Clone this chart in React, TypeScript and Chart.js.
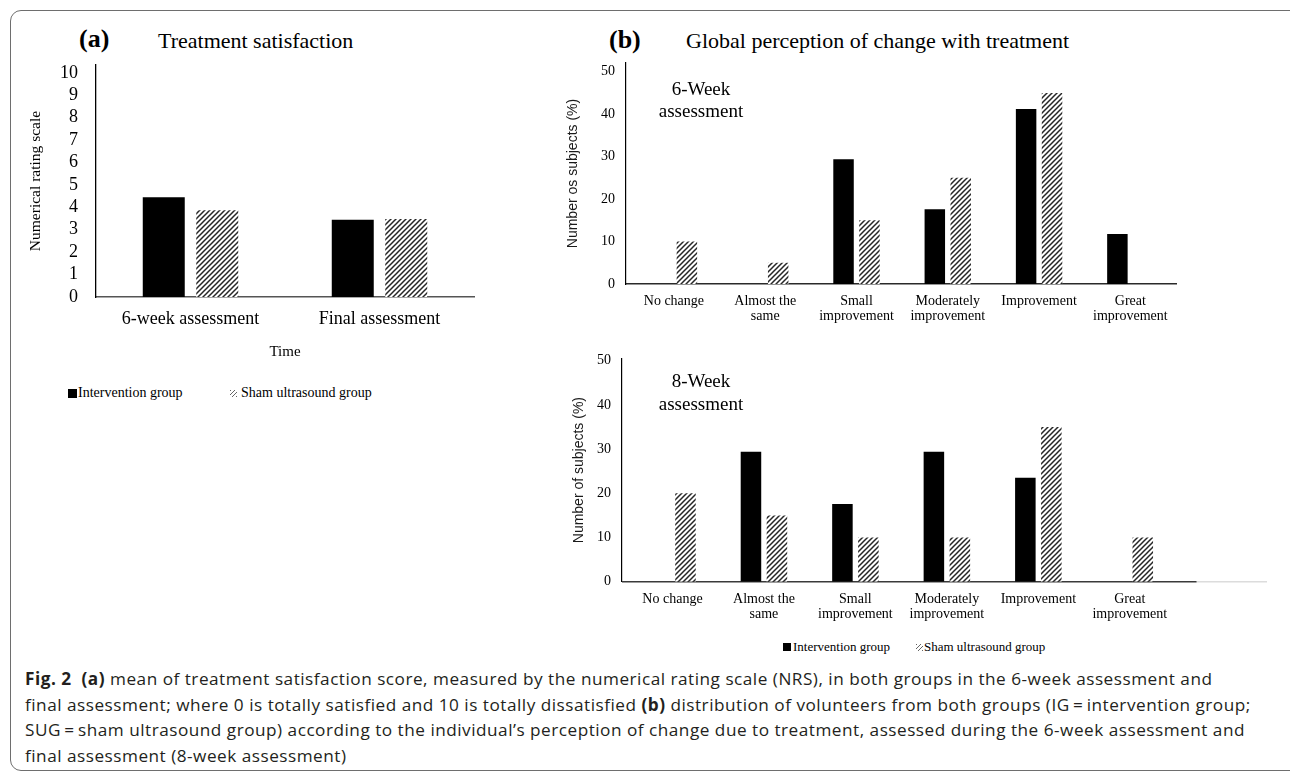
import React, { useEffect, useRef } from "react";
import { Chart, registerables } from "chart.js";

Chart.register(...registerables);

const SERIF = '"Liberation Serif", "Times New Roman", Times, serif';
const SANS = '"Liberation Sans", Arial, Helvetica, sans-serif';
const CAPTION_FONT = '"Open Sans", "Noto Sans", Arial, sans-serif';

// ---------- (a) Treatment satisfaction ----------
const satisfactionCategories = ["6-week assessment", "Final assessment"];
const satisfactionIntervention = [4.45, 3.45];
const satisfactionSham = [3.87, 3.48];
const nrsTicks = [0, 1, 2, 3, 4, 5, 6, 7, 8, 9, 10];

// ---------- (b) Global perception of change ----------
const perceptionCategories = [
  ["No change"],
  ["Almost the", "same"],
  ["Small", "improvement"],
  ["Moderately", "improvement"],
  ["Improvement"],
  ["Great", "improvement"],
];
const week6Intervention = [0, 0, 29.4, 17.6, 41.2, 11.8];
const week6Sham = [10, 5, 15, 25, 45, 0];
const week8Intervention = [0, 29.4, 17.6, 29.4, 23.5, 0];
const week8Sham = [20, 15, 10, 10, 35, 10];
const percentTicks = [0, 10, 20, 30, 40, 50];

const seriesNames = ["Intervention group", "Sham ultrasound group"];

function makeHatch(): CanvasPattern | string {
  const s = 5;
  const c = document.createElement("canvas");
  c.width = s;
  c.height = s;
  const g = c.getContext("2d");
  if (!g) return "#888";
  g.fillStyle = "#ffffff";
  g.fillRect(0, 0, s, s);
  g.strokeStyle = "#262626";
  g.lineWidth = 1.5;
  g.beginPath();
  g.moveTo(0, s);
  g.lineTo(s, 0);
  g.moveTo(-s / 2, s / 2);
  g.lineTo(s / 2, -s / 2);
  g.moveTo(s / 2, s * 1.5);
  g.lineTo(s * 1.5, s / 2);
  g.stroke();
  return g.createPattern(c, "repeat") || "#888";
}

const axisExtension = {
  id: "axisExtension",
  beforeDatasetsDraw(chart: any, _args: any, opts: any) {
    if (!opts || opts.darkEnd === undefined) return;
    const xs = chart.scales.x;
    const { left, right, bottom } = chart.chartArea;
    const ctx = chart.ctx;
    const mid = xs.getPixelForValue(opts.darkEnd);
    ctx.save();
    ctx.lineWidth = 1.5;
    ctx.strokeStyle = "#dcdcdc";
    ctx.beginPath();
    ctx.moveTo(mid, bottom);
    ctx.lineTo(right, bottom);
    ctx.stroke();
    ctx.strokeStyle = "#3a3a3a";
    ctx.beginPath();
    ctx.moveTo(left, bottom);
    ctx.lineTo(mid, bottom);
    ctx.stroke();
    ctx.restore();
  },
};

const fitY = (w: number) => (s: any) => {
  s.width = w;
  s.paddingTop = 0;
  s.paddingBottom = 0;
};
const fitX = (h: number) => (s: any) => {
  s.height = h;
  s.paddingLeft = 0;
  s.paddingRight = 0;
};

function satisfactionConfig(): any {
  const hatch = makeHatch();
  return {
    type: "bar",
    data: {
      labels: satisfactionCategories,
      datasets: [
        {
          label: seriesNames[0],
          data: satisfactionIntervention,
          backgroundColor: "#000000",
          categoryPercentage: 0.566,
          barPercentage: 0.785,
        },
        {
          label: seriesNames[1],
          data: satisfactionSham,
          backgroundColor: hatch,
          categoryPercentage: 0.566,
          barPercentage: 0.785,
        },
      ],
    },
    options: {
      responsive: false,
      animation: false,
      devicePixelRatio: 1,
      layout: { padding: { left: 0, top: 15, right: 26, bottom: 0 } },
      plugins: { legend: { display: false }, tooltip: { enabled: false } },
      scales: {
        x: {
          grid: { display: false, drawTicks: false },
          border: { display: true, color: "#555555", width: 1.6 },
          ticks: {
            color: "#000",
            font: { family: SERIF, size: 18, lineHeight: 1.2 },
            padding: 11,
            maxRotation: 0,
            autoSkip: false,
          },
          title: {
            display: true,
            text: "Time",
            color: "#000",
            font: { family: SERIF, size: 15, lineHeight: 1.2 },
            padding: { top: 0, bottom: 19 },
          },
          afterFit: fitX(83),
        },
        y: {
          min: 0,
          max: 10.35,
          bounds: "data",
          afterBuildTicks: (s: any) => {
            s.ticks = nrsTicks.map((v) => ({ value: v }));
          },
          grid: { display: false, drawTicks: false },
          border: { display: true, color: "#000", width: 1.3 },
          ticks: {
            color: "#000",
            font: { family: SERIF, size: 18 },
            padding: 18,
            autoSkip: false,
          },
          title: {
            display: true,
            text: "Numerical rating scale",
            color: "#000",
            font: { family: SERIF, size: 15.5, lineHeight: 1.2 },
            padding: { top: 27, bottom: 0 },
          },
          afterFit: fitY(96),
        },
      },
    },
  };
}

function perceptionConfig(
  intervention: number[],
  sham: number[],
  p: {
    xMin: number;
    xMax: number;
    yMax: number;
    yWidth: number;
    xHeight: number;
    padTop: number;
    padRight: number;
    yTitle: string;
    yTitlePad: number;
    darkEnd?: number;
  }
): any {
  const hatch = makeHatch();
  const toPoints = (arr: number[]) => arr.map((v, i) => ({ x: i, y: v }));
  return {
    type: "bar",
    data: {
      datasets: [
        {
          label: seriesNames[0],
          data: toPoints(intervention),
          backgroundColor: "#000000",
          categoryPercentage: 0.568,
          barPercentage: 0.79,
        },
        {
          label: seriesNames[1],
          data: toPoints(sham),
          backgroundColor: hatch,
          categoryPercentage: 0.568,
          barPercentage: 0.79,
        },
      ],
    },
    plugins: [axisExtension],
    options: {
      responsive: false,
      animation: false,
      devicePixelRatio: 1,
      layout: { padding: { left: 0, top: p.padTop, right: p.padRight, bottom: 0 } },
      plugins: {
        legend: { display: false },
        tooltip: { enabled: false },
        axisExtension: { darkEnd: p.darkEnd },
      },
      scales: {
        x: {
          type: "linear",
          min: p.xMin,
          max: p.xMax,
          bounds: "data",
          offset: false,
          afterBuildTicks: (s: any) => {
            s.ticks = perceptionCategories.map((_, i) => ({ value: i }));
          },
          grid: { display: false, drawTicks: false, offset: false },
          border: {
            display: p.darkEnd === undefined,
            color: "#2a2a2a",
            width: 1.6,
          },
          ticks: {
            color: "#000",
            font: { family: SERIF, size: 14, lineHeight: "15px" },
            padding: 10,
            maxRotation: 0,
            minRotation: 0,
            autoSkip: false,
            callback: (v: any) => perceptionCategories[Math.round(Number(v))] || "",
          },
          afterFit: fitX(p.xHeight),
        },
        y: {
          min: 0,
          max: p.yMax,
          bounds: "data",
          afterBuildTicks: (s: any) => {
            s.ticks = percentTicks.map((v) => ({ value: v }));
          },
          grid: { display: false, drawTicks: false },
          border: { display: true, color: "#000", width: 1.2 },
          ticks: {
            color: "#000",
            font: { family: SERIF, size: 14 },
            padding: 11,
            autoSkip: false,
          },
          title: {
            display: true,
            text: p.yTitle,
            color: "#1a1a1a",
            font: { family: SANS, size: 14, lineHeight: 1.2 },
            padding: { top: p.yTitlePad, bottom: 0 },
          },
          afterFit: fitY(p.yWidth),
        },
      },
    },
  };
}

function ChartCanvas(props: {
  left: number;
  top: number;
  width: number;
  height: number;
  make: () => any;
}) {
  const ref = useRef<HTMLCanvasElement | null>(null);
  useEffect(() => {
    if (!ref.current) return;
    const chart = new Chart(ref.current, props.make());
    return () => chart.destroy();
  }, []);
  return (
    <canvas
      ref={ref}
      width={props.width}
      height={props.height}
      style={{
        position: "absolute",
        left: props.left,
        top: props.top,
        width: props.width,
        height: props.height,
      }}
    />
  );
}

// text placed by its baseline (line-height = 1)
function Txt(props: {
  x: number;
  baseline: number;
  size: number;
  family?: string;
  bold?: boolean;
  center?: boolean;
  children: React.ReactNode;
  color?: string;
  spacing?: number;
}) {
  const family = props.family || SERIF;
  const asc = family === SANS ? 0.8465 : family === CAPTION_FONT ? 0.888 : 0.8375;
  const top = props.baseline - asc * props.size;
  const style: React.CSSProperties = {
    position: "absolute",
    top,
    left: props.center ? props.x - 300 : props.x,
    width: props.center ? 600 : undefined,
    textAlign: props.center ? "center" : "left",
    fontFamily: family,
    fontSize: props.size,
    lineHeight: 1,
    fontWeight: props.bold ? 700 : 400,
    whiteSpace: "pre",
    letterSpacing: props.spacing ? props.spacing + "px" : undefined,
    color: props.color || "#000",
  };
  return <div style={style}>{props.children}</div>;
}

function LegendRow(props: {
  y: number;
  size: number;
  squareX: number;
  squareSize: number;
  textX: number;
  hatchX: number;
  hatchTextX: number;
}) {
  const sq = props.squareSize;
  return (
    <>
      <div
        style={{
          position: "absolute",
          left: props.squareX,
          top: props.y - sq / 2,
          width: sq,
          height: sq,
          background: "#000",
        }}
      />
      <Txt x={props.textX} baseline={props.y + props.size * 0.33} size={props.size}>
        {seriesNames[0]}
      </Txt>
      <div
        style={{
          position: "absolute",
          left: props.hatchX,
          top: props.y - 3.5,
          width: 7,
          height: 7,
          background:
            "repeating-linear-gradient(135deg, #666 0px, #666 1px, transparent 1px, transparent 3px)",
        }}
      />
      <Txt x={props.hatchTextX} baseline={props.y + props.size * 0.33} size={props.size}>
        {seriesNames[1]}
      </Txt>
    </>
  );
}

const CAP = 17.2;
const CAP_SPACING = 0.5;
const capStyle = { fontWeight: 700 } as React.CSSProperties;

export default function App() {
  return (
    <div
      style={{
        position: "absolute",
        left: 0,
        top: 0,
        width: 1290,
        height: 776,
        overflow: "hidden",
        background: "#fff",
      }}
    >
      <div
        style={{
          position: "absolute",
          left: 10,
          top: 10,
          width: 1292,
          height: 761,
          border: "1.5px solid #6e6e6e",
          borderRadius: 11,
          boxSizing: "border-box",
        }}
      />

      {/* (a) */}
      <Txt x={79} baseline={48} size={26} bold>
        (a)
      </Txt>
      <Txt x={158} baseline={48} size={22}>
        Treatment satisfaction
      </Txt>
      <ChartCanvas left={0} top={50} width={500} height={330} make={satisfactionConfig} />
      <LegendRow
        y={393}
        size={14}
        squareX={68}
        squareSize={9}
        textX={78}
        hatchX={230}
        hatchTextX={241}
      />

      {/* (b) */}
      <Txt x={609} baseline={49} size={26} bold>
        (b)
      </Txt>
      <Txt x={686} baseline={48.5} size={22}>
        Global perception of change with treatment
      </Txt>
      <ChartCanvas
        left={540}
        top={50}
        width={700}
        height={290}
        make={() =>
          perceptionConfig(week6Intervention, week6Sham, {
            xMin: -0.525,
            xMax: 5.5,
            yMax: 52.05,
            yWidth: 86,
            xHeight: 56,
            padTop: 13,
            padRight: 64,
            yTitle: "Number os subjects (%)",
            yTitlePad: 25,
          })
        }
      />
      <Txt x={701} baseline={95} size={19} center>
        6-Week
      </Txt>
      <Txt x={701} baseline={117} size={19} center>
        assessment
      </Txt>

      <ChartCanvas
        left={540}
        top={340}
        width={760}
        height={290}
        make={() =>
          perceptionConfig(week8Intervention, week8Sham, {
            xMin: -0.552,
            xMax: 6.5,
            yMax: 50.5,
            yWidth: 82,
            xHeight: 48.3,
            padTop: 18.5,
            padRight: 33,
            yTitle: "Number of subjects (%)",
            yTitlePad: 30.6,
            darkEnd: 5.73,
          })
        }
      />
      <Txt x={701} baseline={387} size={19} center>
        8-Week
      </Txt>
      <Txt x={701} baseline={410} size={19} center>
        assessment
      </Txt>
      <LegendRow
        y={647}
        size={13}
        squareX={783}
        squareSize={7.5}
        textX={793}
        hatchX={916}
        hatchTextX={924}
      />

      {/* caption */}
      <Txt x={25} baseline={685.5} size={CAP} family={CAPTION_FONT} color="#231f20" spacing={CAP_SPACING}>
        <span style={capStyle}>Fig. 2</span>
        {"  "}
        <span style={capStyle}>(a)</span>
        {
          " mean of treatment satisfaction score, measured by the numerical rating scale (NRS), in both groups in the 6-week assessment and"
        }
      </Txt>
      <Txt x={25} baseline={711} size={CAP} family={CAPTION_FONT} color="#231f20" spacing={CAP_SPACING}>
        {"final assessment; where 0 is totally satisfied and 10 is totally dissatisfied "}
        <span style={capStyle}>(b)</span>
        {" distribution of volunteers from both groups (IG\u2009=\u2009intervention group;"}
      </Txt>
      <Txt x={25} baseline={736.7} size={CAP} family={CAPTION_FONT} color="#231f20" spacing={CAP_SPACING}>
        {
          "SUG\u2009=\u2009sham ultrasound group) according to the individual\u2019s perception of change due to treatment, assessed during the 6-week assessment and"
        }
      </Txt>
      <Txt x={25} baseline={762.4} size={CAP} family={CAPTION_FONT} color="#231f20" spacing={CAP_SPACING}>
        {"final assessment (8-week assessment)"}
      </Txt>
    </div>
  );
}
